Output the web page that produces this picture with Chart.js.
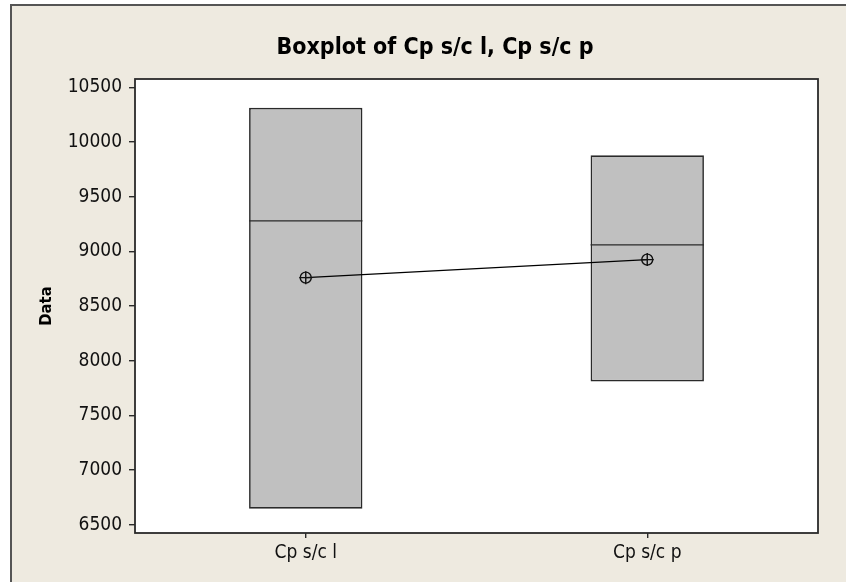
<!DOCTYPE html>
<html>
<head>
<meta charset="utf-8">
<script src="https://cdn.jsdelivr.net/npm/chart.js@4/dist/chart.umd.min.js"></script>
<style>
  html, body { margin: 0; padding: 0; background: #ffffff; }
  #wrap { position: absolute; left: 0; top: 0; width: 846px; height: 582px; }
  canvas { display: block; }
</style>
</head>
<body>
<div id="wrap"><canvas id="c" width="846" height="582"></canvas></div>
<script>
// ---- data ----
const categories = ["Cp s/c l", "Cp s/c p"];
const q1Values = [6645, 7810];
const q3Values = [10315, 9880];
const medianValues = [9280, 9060];
const meanValues = [8760, 8925];
const yTicks = [6500, 7000, 7500, 8000, 8500, 9000, 9500, 10000, 10500];
const yMin = 6423;
const yMax = 10578;
const chartTitle = "Boxplot of Cp s/c l, Cp s/c p";
const yTitle = "Data";

const FONT = "'DejaVu Sans Condensed', 'DejaVu Sans', sans-serif";
const BEIGE = "#EEEAE0";
const FRAME = "#555555";
const INK = "#2a2a2a";

const backgroundPlugin = {
  id: 'bgFrame',
  beforeDraw(chart) {
    const ctx = chart.ctx;
    const a = chart.chartArea;
    ctx.save();
    ctx.fillStyle = '#ffffff';
    ctx.fillRect(0, 0, chart.width, chart.height);
    ctx.fillStyle = BEIGE;
    ctx.fillRect(11, 5, chart.width - 11, chart.height - 5);
    ctx.strokeStyle = FRAME;
    ctx.lineWidth = 2;
    ctx.beginPath();
    ctx.moveTo(11, chart.height);
    ctx.lineTo(11, 5);
    ctx.lineTo(chart.width, 5);
    ctx.stroke();
    ctx.fillStyle = '#ffffff';
    ctx.fillRect(a.left, a.top, a.right - a.left, a.bottom - a.top);
    ctx.restore();
  },
  afterDatasetsDraw(chart) {
    // median lines across each box, positioned with the library's scales
    const ctx = chart.ctx;
    const meta = chart.getDatasetMeta(0);
    const ys = chart.scales.y;
    ctx.save();
    ctx.strokeStyle = INK;
    ctx.lineWidth = 1.4;
    meta.data.forEach((el, i) => {
      const y = ys.getPixelForValue(medianValues[i]);
      ctx.beginPath();
      ctx.moveTo(el.x - el.width / 2, y);
      ctx.lineTo(el.x + el.width / 2, y);
      ctx.stroke();
    });
    ctx.restore();
  },
  afterDraw(chart) {
    const ctx = chart.ctx;
    const a = chart.chartArea;
    ctx.save();
    ctx.strokeStyle = INK;
    ctx.lineWidth = 1.8;
    ctx.strokeRect(a.left, a.top, a.right - a.left, a.bottom - a.top);
    ctx.restore();
  }
};

new Chart(document.getElementById('c'), {
  type: 'bar',
  data: {
    labels: categories,
    datasets: [
      {
        type: 'bar',
        data: q1Values.map((v, i) => [v, q3Values[i]]),
        backgroundColor: '#C0C0C0',
        borderColor: INK,
        borderWidth: 1.7,
        borderSkipped: false,
        categoryPercentage: 1,
        barPercentage: 0.332,
        order: 3
      },
      {
        type: 'line',
        data: meanValues,
        borderColor: '#000000',
        borderWidth: 1.1,
        pointStyle: 'circle',
        pointRadius: 5.5,
        pointBorderWidth: 1.4,
        pointBackgroundColor: 'rgba(0,0,0,0)',
        pointBorderColor: '#111111',
        fill: false,
        tension: 0,
        order: 1
      },
      {
        type: 'line',
        data: meanValues,
        showLine: false,
        pointStyle: 'cross',
        pointRadius: 6.5,
        pointBorderWidth: 1.4,
        pointBorderColor: '#111111',
        order: 0
      }
    ]
  },
  options: {
    responsive: false,
    animation: false,
    devicePixelRatio: 1,
    layout: { padding: { left: 24, right: 0, top: 0, bottom: 0 } },
    plugins: {
      legend: { display: false },
      tooltip: { enabled: false },
      title: {
        display: true,
        text: chartTitle,
        color: '#000000',
        font: { family: FONT, size: 23, weight: 'bold', lineHeight: 1.2 },
        padding: { top: 34, bottom: 17.4 }
      }
    },
    scales: {
      x: {
        offset: true,
        grid: { offset: false, drawOnChartArea: false, drawTicks: true, tickLength: 5, color: INK, lineWidth: 1.4 },
        border: { display: false },
        ticks: { color: '#111111', font: { family: FONT, size: 19 }, padding: 4 },
        afterFit(s) { s.height = 49; }
      },
      y: {
        min: yMin,
        max: yMax,
        grid: { drawOnChartArea: false, drawTicks: true, tickLength: 6, color: INK, lineWidth: 1.4 },
        border: { display: false },
        ticks: {
          color: '#111111',
          font: { family: FONT, size: 19 },
          padding: 7,
          callback: (v) => String(v)
        },
        afterBuildTicks(s) { s.ticks = yTicks.map(v => ({ value: v })); },
        title: {
          display: true,
          text: yTitle,
          color: '#000000',
          font: { family: FONT, size: 16.5, weight: 'bold', lineHeight: 1.2 },
          padding: { top: 13, bottom: 0 }
        },
        afterFit(s) { s.width = 111; }
      },
      yPad: {
        type: 'linear',
        position: 'right',
        display: true,
        grid: { display: false, drawTicks: false },
        border: { display: false },
        ticks: { display: false },
        afterFit(s) { s.width = 28; }
      }
    }
  },
  plugins: [backgroundPlugin]
});
</script>
</body>
</html>
